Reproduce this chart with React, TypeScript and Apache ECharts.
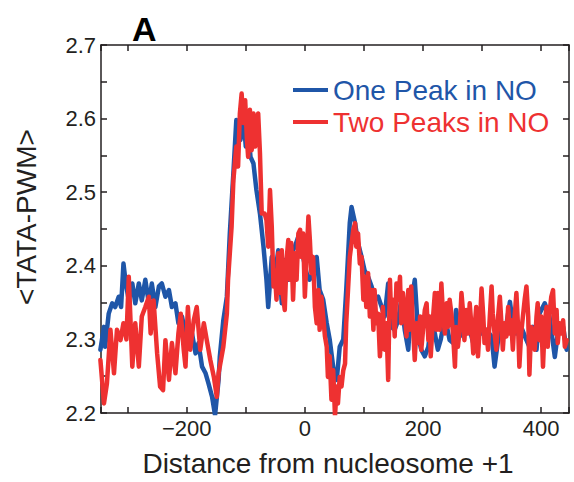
import React, { useEffect, useRef } from "react";
import * as echarts from "echarts";

const BLUE = "#1f56a8";
const RED = "#ee3131";
const INK = "#231f20";
const FONT = "'Liberation Sans', Arial, Helvetica, sans-serif";

const seriesNames = ["One Peak in NO", "Two Peaks in NO"];
const xTickStep = 100;
const xLabelStep = 200;
const yTickStep = 0.05;

const onePeakX = [
  -346, -340, -338, -332, -326, -321, -315, -311, -307, -303, -298, -292, -287, -281, -276, -270,
  -264, -259, -253, -247, -242, -236, -230, -225, -219, -214, -208, -202, -197, -191, -185, -180,
  -174, -168, -163, -157, -152, -146, -144, -138, -132, -127, -121, -116, -113, -109, -104, -100,
  -96, -92, -87, -82, -76, -70, -65, -62, -56, -51, -45, -39, -34, -28, -23, -17, -11, -6, -3, 3,
  8, 14, 20, 25, 31, 37, 42, 48, 54, 59, 65, 70, 76, 79, 85, 90, 96, 101, 107, 113, 118, 124, 130,
  135, 141, 146, 152, 158, 163, 169, 175, 180, 186, 192, 197, 203, 209, 214, 220, 225, 230, 237,
  245, 251, 256, 262, 268, 276, 285, 290, 299, 307, 316, 321, 330, 338, 347, 352, 358, 366, 375,
  380, 386, 392, 397, 406, 414, 423, 428, 437, 443,
];
const onePeakY = [
  2.286, 2.317, 2.29, 2.335, 2.349, 2.344, 2.358, 2.344, 2.403, 2.376, 2.353, 2.376, 2.349, 2.376,
  2.353, 2.381, 2.349, 2.376, 2.344, 2.372, 2.376, 2.358, 2.367, 2.344, 2.349, 2.322, 2.331, 2.308,
  2.299, 2.308, 2.281, 2.295, 2.263, 2.254, 2.24, 2.222, 2.197, 2.245, 2.276, 2.326, 2.358, 2.444,
  2.526, 2.598, 2.594, 2.571, 2.603, 2.562, 2.585, 2.548, 2.539, 2.503, 2.471, 2.426, 2.381, 2.344,
  2.412, 2.385, 2.421, 2.349, 2.408, 2.381, 2.417, 2.426, 2.44, 2.44, 2.412, 2.39, 2.381, 2.39,
  2.412, 2.367, 2.354, 2.322, 2.3, 2.262, 2.245, 2.29, 2.3, 2.367, 2.458, 2.48, 2.458, 2.431, 2.412,
  2.394, 2.385, 2.372, 2.354, 2.358, 2.344, 2.331, 2.376, 2.317, 2.313, 2.326, 2.354, 2.313, 2.286,
  2.349, 2.381, 2.304, 2.286, 2.277, 2.29, 2.326, 2.308, 2.286, 2.3, 2.331, 2.299, 2.295, 2.34,
  2.313, 2.304, 2.322, 2.295, 2.331, 2.308, 2.313, 2.304, 2.263, 2.317, 2.304, 2.351, 2.322, 2.308,
  2.317, 2.299, 2.29, 2.317, 2.286, 2.335, 2.349, 2.331, 2.276, 2.308, 2.317, 2.286,
];

const twoPeaksX = [
  -346, -340, -335, -329, -323, -318, -312, -307, -302, -298, -292, -287, -281, -276, -270, -264,
  -261, -256, -250, -245, -240, -236, -230, -225, -219, -214, -210, -205, -202, -198, -194, -188,
  -183, -177, -171, -166, -160, -154, -149, -146, -144, -138, -132, -130, -124, -121, -116, -113,
  -110, -107, -104, -101, -98, -96, -93, -90, -87, -84, -82, -79, -76, -73, -68, -65, -62, -59,
  -56, -53, -51, -48, -45, -42, -39, -37, -34, -31, -28, -25, -23, -20, -17, -14, -11, -8, -6, -3,
  0, 3, 6, 8.5, 11, 14, 17, 20, 23, 25, 28, 31, 34, 37, 39, 42, 45, 48, 51, 54, 56, 59, 62, 65, 68,
  70, 73, 76, 82, 85, 87, 90, 93, 96, 99, 101, 104, 107, 110, 113, 116, 118, 121, 124, 127, 130,
  132, 135, 138, 141, 144, 146, 149, 152, 155, 158, 161, 163, 166, 169, 172, 175, 177, 180, 183,
  186, 189, 192, 195, 197, 200, 203, 206, 209, 211, 213, 217, 220, 223, 225, 228, 231, 234, 237,
  240, 242, 245, 248, 251, 254, 256, 259, 262, 265, 268, 270, 273, 276, 279, 282, 285, 287, 290,
  293, 296, 299, 302, 304, 307, 310, 313, 316, 318, 321, 324, 327, 330, 333, 335, 338, 341, 344,
  347, 349, 352, 355, 358, 361, 363, 366, 369, 372, 375, 378, 380, 383, 386, 389, 392, 394, 397,
  400, 403, 406, 409, 411, 414, 417, 420, 423, 426, 428, 431, 434, 437, 440, 443,
];
const twoPeaksY = [
  2.272, 2.213, 2.24, 2.313, 2.254, 2.313, 2.299, 2.322, 2.3, 2.385, 2.263, 2.322, 2.263, 2.331,
  2.344, 2.358, 2.308, 2.353, 2.281, 2.236, 2.231, 2.299, 2.245, 2.295, 2.254, 2.308, 2.335, 2.286,
  2.263, 2.344, 2.286, 2.326, 2.344, 2.286, 2.322, 2.299, 2.272, 2.249, 2.222, 2.254, 2.263, 2.29,
  2.335, 2.381, 2.453, 2.516, 2.562, 2.535, 2.607, 2.634, 2.594, 2.625, 2.571, 2.548, 2.612, 2.557,
  2.607, 2.562, 2.594, 2.607, 2.553, 2.471, 2.471, 2.462, 2.426, 2.503, 2.453, 2.372, 2.394, 2.354,
  2.417, 2.363, 2.421, 2.358, 2.34, 2.408, 2.435, 2.381, 2.431, 2.354, 2.417, 2.381, 2.444, 2.449,
  2.412, 2.444, 2.358, 2.412, 2.467, 2.435, 2.39, 2.412, 2.344, 2.322, 2.367, 2.313, 2.358, 2.331,
  2.304, 2.29, 2.249, 2.277, 2.218, 2.258, 2.196, 2.236, 2.213, 2.249, 2.236, 2.258, 2.267, 2.322,
  2.367, 2.412, 2.449, 2.458, 2.426, 2.444, 2.403, 2.412, 2.354, 2.385, 2.344, 2.39, 2.331, 2.367,
  2.313, 2.367, 2.322, 2.335, 2.277, 2.313, 2.344, 2.286, 2.322, 2.245, 2.381, 2.331, 2.354, 2.304,
  2.376, 2.354, 2.385, 2.322, 2.363, 2.34, 2.304, 2.367, 2.313, 2.372, 2.317, 2.272, 2.322, 2.295,
  2.331, 2.286, 2.313, 2.34, 2.349, 2.299, 2.331, 2.277, 2.331, 2.363, 2.313, 2.363, 2.313, 2.376,
  2.331, 2.308, 2.349, 2.317, 2.354, 2.335, 2.304, 2.263, 2.317, 2.29, 2.313, 2.363, 2.335, 2.299,
  2.34, 2.308, 2.349, 2.317, 2.281, 2.313, 2.344, 2.277, 2.317, 2.369, 2.331, 2.295, 2.313, 2.286,
  2.331, 2.372, 2.335, 2.308, 2.286, 2.331, 2.358, 2.317, 2.286, 2.322, 2.304, 2.344, 2.308, 2.326,
  2.286, 2.331, 2.363, 2.313, 2.263, 2.308, 2.331, 2.354, 2.372, 2.331, 2.252, 2.317, 2.308, 2.286,
  2.331, 2.349, 2.299, 2.331, 2.263, 2.322, 2.344, 2.29, 2.335, 2.358, 2.367, 2.308, 2.34, 2.295,
  2.322, 2.308, 2.326, 2.29, 2.299,
];

const zip = (xs: number[], ys: number[]) => xs.map((x, i) => [x, ys[i]]);

export default function App() {
  const ref = useRef<HTMLDivElement>(null);

  useEffect(() => {
    if (!ref.current) return;
    const chart = echarts.init(ref.current, null, { renderer: "svg" });
    const axisLine = { show: true, onZero: false, lineStyle: { color: INK, width: 1.5 } };
    const tick = { show: true, inside: true, length: 6, interval: 0, lineStyle: { color: INK, width: 1.5 } };
    const xBase = {
      type: "value" as const,
      min: -345,
      max: 447,
      splitNumber: 8,
      minInterval: xTickStep,
      maxInterval: xTickStep,
      axisLine,
      axisTick: tick,
      splitLine: { show: false },
    };
    const yBase = {
      type: "value" as const,
      min: 2.2,
      max: 2.7,
      interval: yTickStep,
      axisLine,
      axisTick: tick,
      splitLine: { show: false },
    };
    const xFormatter = (v: number) => {
      const r = Math.round(v);
      if (Math.abs(v - r) > 1e-6 || r % xLabelStep !== 0) return "";
      return String(r).replace("-", "\u2212");
    };
    const yFormatter = (v: number) => {
      const k = Math.round(v * 100);
      return k % 10 === 0 ? v.toFixed(1) : "";
    };
    chart.setOption({
      animation: false,
      backgroundColor: "#ffffff",
      textStyle: { fontFamily: FONT },
      title: {
        text: "A",
        left: 127,
        top: 7,
        textStyle: { fontSize: 34, fontWeight: "bold", color: "#000", fontFamily: FONT },
      },
      grid: { left: 101, right: 5, top: 45, bottom: 69, containLabel: false },
      legend: {
        orient: "vertical",
        left: 288,
        top: 71,
        itemWidth: 35,
        itemHeight: 4,
        itemGap: 4,
        icon: "rect",
        textStyle: { fontSize: 28, fontFamily: FONT },
        data: [
          { name: seriesNames[0], textStyle: { color: BLUE } },
          { name: seriesNames[1], textStyle: { color: RED } },
        ],
      },
      xAxis: [
        {
          ...xBase,
          position: "bottom",
          axisLabel: {
            show: true,
            interval: 0,
            fontSize: 22,
            color: INK,
            fontFamily: FONT,
            margin: 4,
            formatter: xFormatter,
          },
        },
        {
          ...xBase,
          position: "top",
          axisLabel: { show: false },
        },
      ],
      yAxis: [
        {
          ...yBase,
          position: "left",
          axisLabel: {
            show: true,
            interval: 0,
            fontSize: 22,
            color: INK,
            fontFamily: FONT,
            margin: 5,
            formatter: yFormatter,
          },
        },
        {
          ...yBase,
          position: "right",
          axisLabel: { show: false },
        },
      ],
      graphic: [
        {
          type: "text",
          x: 26,
          y: 217,
          rotation: Math.PI / 2,
          style: {
            text: "<TATA-PWM>",
            fontSize: 28,
            fontFamily: FONT,
            fill: INK,
            align: "center",
            verticalAlign: "middle",
          },
        },
        {
          type: "text",
          x: 328,
          y: 463,
          style: {
            text: "Distance from nucleosome +1",
            fontSize: 28,
            fontFamily: FONT,
            fill: INK,
            align: "center",
            verticalAlign: "middle",
          },
        },
      ],
      series: [
        {
          name: seriesNames[0],
          type: "line",
          data: zip(onePeakX, onePeakY),
          showSymbol: false,
          clip: true,
          color: BLUE,
          lineStyle: { width: 4.5, color: BLUE, join: "round", cap: "round" },
        },
        {
          name: seriesNames[1],
          type: "line",
          data: zip(twoPeaksX, twoPeaksY),
          showSymbol: false,
          clip: true,
          color: RED,
          lineStyle: { width: 4.5, color: RED, join: "round", cap: "round" },
        },
      ],
    });
    return () => chart.dispose();
  }, []);

  return (
    <div
      ref={ref}
      style={{ position: "absolute", left: 0, top: 0, width: 574, height: 482 }}
    />
  );
}
